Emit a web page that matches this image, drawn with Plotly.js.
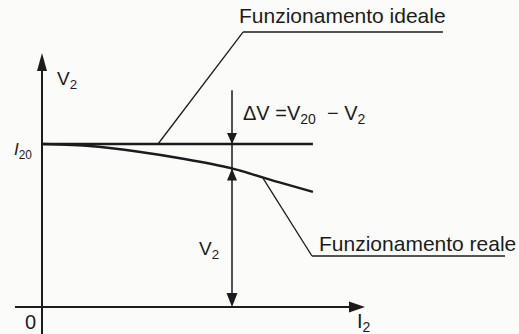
<!DOCTYPE html>
<html>
<head>
<meta charset="utf-8">
<script src="https://cdn.plot.ly/plotly-3.0.1.min.js"></script>
<style>
  html, body { margin: 0; padding: 0; background: #fbfbfa; }
  #chart { width: 519px; height: 334px; }
</style>
</head>
<body>
<div id="chart"></div>
<script>
// V2 = f(I2) : ideal vs real transformer secondary voltage (V20 = 100)
var V20 = 100;
var idealI = [0, 142.6];
var idealV = [V20, V20];
var realI = [0, 25, 50, 75, 100, 125, 142.6];
var realV = [100, 98.8, 95.4, 90.8, 85.0, 76.4, 70.6];
// working point used for the ΔV dimension
var workI = 100;
var workV = 85.0;

var ink = '#1c1c1c';
var font = 'Liberation Sans, Arial, sans-serif';

// triangular arrow head, size in pixels, tip at (x, y)
function head(x, y, dir, len, half) {
  var p;
  if (dir === 'up') p = 'M0,0L' + (-half) + ',' + (-len) + 'L' + half + ',' + (-len) + 'Z';
  else if (dir === 'down') p = 'M0,0L' + (-half) + ',' + len + 'L' + half + ',' + len + 'Z';
  else p = 'M0,0L' + (-len) + ',' + half + 'L' + (-len) + ',' + (-half) + 'Z';
  return {
    type: 'path', xref: 'x', yref: 'y',
    xsizemode: 'pixel', ysizemode: 'pixel', xanchor: x, yanchor: y,
    path: p, fillcolor: ink, line: {width: 0}
  };
}

function seg(x0, y0, x1, y1, w) {
  return {type: 'line', xref: 'x', yref: 'y', x0: x0, y0: y0, x1: x1, y1: y1,
    line: {color: ink, width: w}};
}

function label(x, y, text, size, anchor) {
  return {x: x, y: y, xref: 'x', yref: 'y', text: text, showarrow: false,
    xanchor: anchor || 'center', yanchor: 'middle',
    font: {family: font, size: size, color: ink}};
}

var data = [
  {x: idealI, y: idealV, mode: 'lines', line: {color: ink, width: 2.4}, hoverinfo: 'skip'},
  {x: realI, y: realV, mode: 'lines', line: {color: ink, width: 2.4, shape: 'spline', smoothing: 0.6}, hoverinfo: 'skip'}
];

var shapes = [
  // axes
  seg(0, -17, 0, 150, 2),
  seg(-14.2, 0, 165, 0, 2),
  head(0, 155.8, 'up', 18, 5),
  head(170, 0, 'right', 16, 5.5),
  // dimension line at the working point
  seg(workI, 133, workI, 2, 1.5),
  head(workI, V20, 'down', 11, 5),
  head(workI, workV, 'up', 12, 5),
  head(workI, 0, 'down', 14, 5.5),
  // leader lines
  seg(61.05, V20, 105.8, 168.7, 1.3),
  seg(105.8, 168.7, 211.05, 168.7, 1.3),
  seg(116.3, 79.1, 142.1, 31.3, 1.3),
  seg(142.1, 31.3, 243.7, 31.3, 1.3)
];

var annotations = [
  label(6.8, 139.3, 'V<sub>2</sub>', 19, 'left'),
  label(-4.2, 95.7, '<i>I</i><sub>20</sub>', 17, 'right'),
  label(-6.3, -9.2, '0', 20),
  label(169.5, -9.8, 'I<sub>2</sub>', 20),
  label(104.7, 117.8, '\u0394V =V<sub>20</sub>\u00a0 \u2212 V<sub>2</sub>', 20, 'left'),
  label(87.9, 35, 'V<sub>2</sub>', 19),
  label(102.6, 178.8, 'Funzionamento ideale', 21, 'left'),
  label(144.7, 38.7, 'Funzionamento reale', 21, 'left')
];

var layout = {
  width: 519, height: 334,
  margin: {l: 0, r: 0, t: 0, b: 0},
  paper_bgcolor: '#fbfbfa',
  plot_bgcolor: '#fbfbfa',
  showlegend: false,
  xaxis: {range: [-22.105, 251.053], visible: false, fixedrange: true},
  yaxis: {range: [-16.564, 188.344], visible: false, fixedrange: true},
  shapes: shapes,
  annotations: annotations
};

Plotly.newPlot('chart', data, layout, {displayModeBar: false, staticPlot: true});
</script>
</body>
</html>
